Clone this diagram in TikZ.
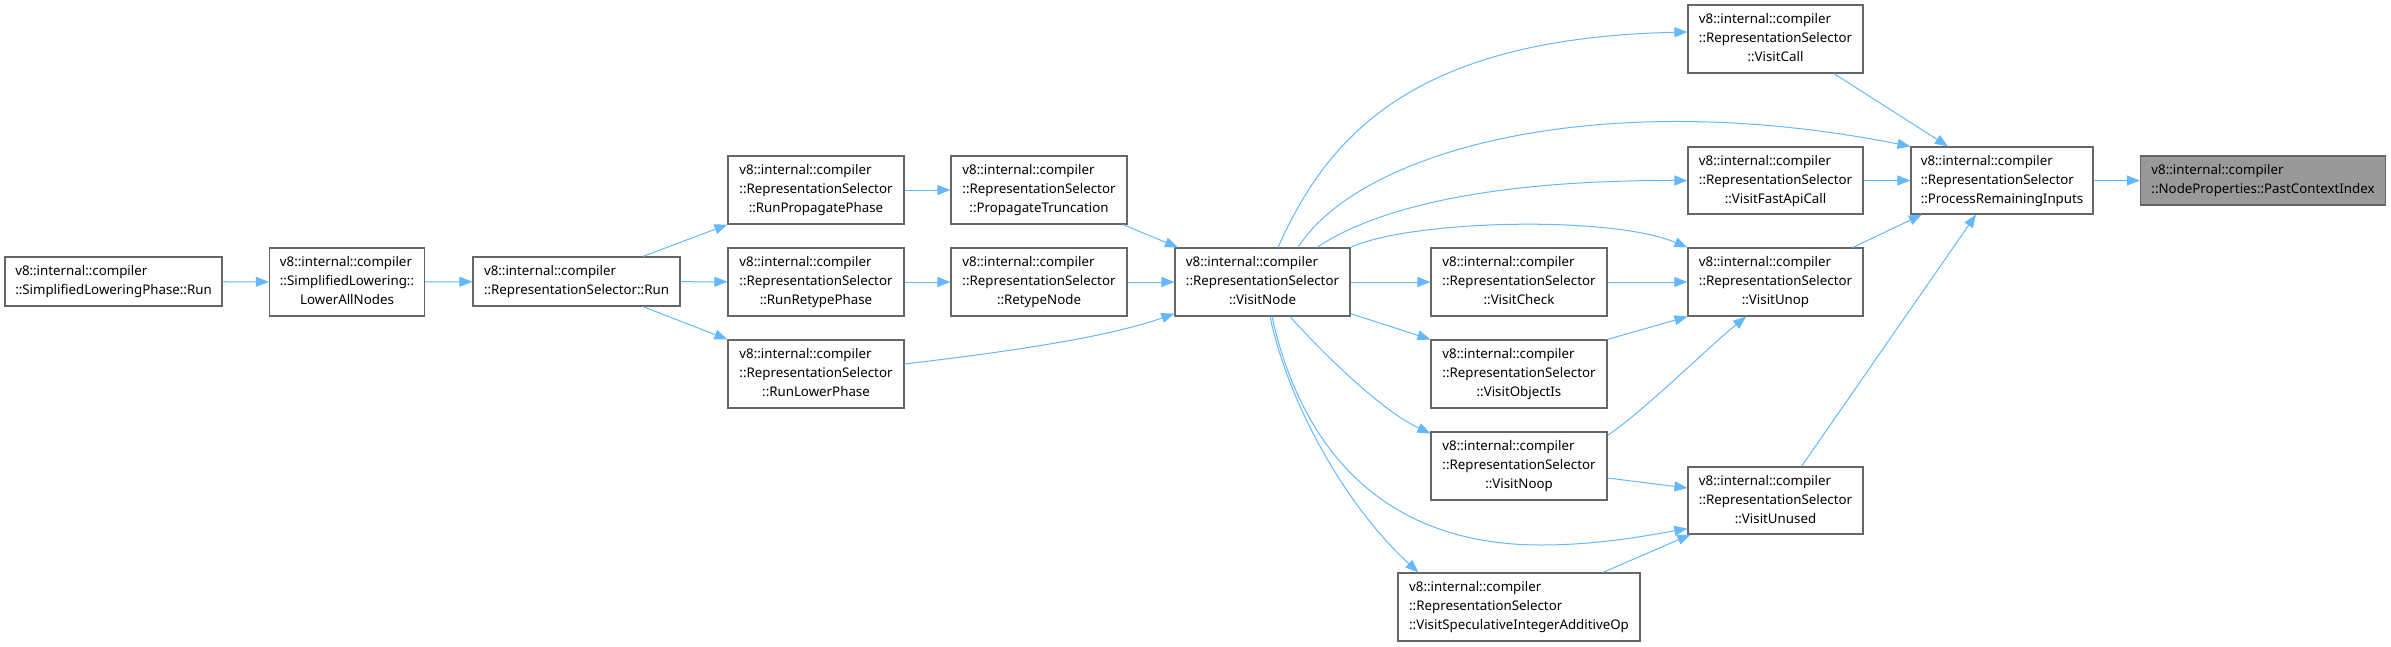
\documentclass[tikz,border=0pt]{standalone}
\usepackage{fontspec}
\setmainfont{Noto Sans}
\usetikzlibrary{arrows.meta}
\definecolor{edgeblue}{HTML}{63B8FF}
\definecolor{boxgray}{HTML}{666666}
\definecolor{fillgray}{HTML}{999999}
\newcommand{\fnlabel}[2]{\begin{tabular}{@{}l@{}}#1\\\multicolumn{1}{@{}c@{}}{#2}\end{tabular}}
\begin{document}
\begin{tikzpicture}[x=1pt, y=-1pt,
  box/.style={draw=boxgray, line width=1.2pt, fill=white, inner sep=0pt, minimum width=176, minimum height=68,
    font=\fontsize{13.3}{19}\selectfont},
  arr/.style={-{Triangle[length=13pt, width=10pt]}, draw=edgeblue, line width=1pt}
]
\useasboundingbox (0,0) rectangle (2391,646);

\node[box, minimum width=217, minimum height=49] (slprun) at (113.5,281.5) {\fnlabel{v8::internal::compiler}{::SimplifiedLoweringPhase::Run}};
\node[box, minimum width=155] (lowerall) at (347,282) {\fnlabel{v8::internal::compiler\\::SimplifiedLowering::}{LowerAllNodes}};
\node[box, minimum width=207, minimum height=49] (rsrun) at (576.5,281.5) {\fnlabel{v8::internal::compiler}{::RepresentationSelector::Run}};
\node[box] (rprop) at (816,190) {\fnlabel{v8::internal::compiler\\::RepresentationSelector}{::RunPropagatePhase}};
\node[box] (rretype) at (816,282) {\fnlabel{v8::internal::compiler\\::RepresentationSelector}{::RunRetypePhase}};
\node[box] (rlower) at (816,374) {\fnlabel{v8::internal::compiler\\::RepresentationSelector}{::RunLowerPhase}};
\node[box] (ptrunc) at (1039,190) {\fnlabel{v8::internal::compiler\\::RepresentationSelector}{::PropagateTruncation}};
\node[box] (retype) at (1039,282) {\fnlabel{v8::internal::compiler\\::RepresentationSelector}{::RetypeNode}};
\node[box, minimum width=175] (vnode) at (1262.5,282) {\fnlabel{v8::internal::compiler\\::RepresentationSelector}{::VisitNode}};
\node[box] (vcheck) at (1519,282) {\fnlabel{v8::internal::compiler\\::RepresentationSelector}{::VisitCheck}};
\node[box] (vobjis) at (1519,374) {\fnlabel{v8::internal::compiler\\::RepresentationSelector}{::VisitObjectIs}};
\node[box] (vnoop) at (1519,466) {\fnlabel{v8::internal::compiler\\::RepresentationSelector}{::VisitNoop}};
\node[box, minimum width=242] (vspec) at (1519,607) {\fnlabel{v8::internal::compiler\\::RepresentationSelector}{::VisitSpeculativeIntegerAdditiveOp}};
\node[box, minimum width=175] (vcall) at (1775.5,39) {\fnlabel{v8::internal::compiler\\::RepresentationSelector}{::VisitCall}};
\node[box, minimum width=175, minimum height=67] (vfast) at (1775.5,180.5) {\fnlabel{v8::internal::compiler\\::RepresentationSelector}{::VisitFastApiCall}};
\node[box, minimum width=175] (vunop) at (1775.5,282) {\fnlabel{v8::internal::compiler\\::RepresentationSelector}{::VisitUnop}};
\node[box, minimum width=175, minimum height=67] (vunused) at (1775.5,500.5) {\fnlabel{v8::internal::compiler\\::RepresentationSelector}{::VisitUnused}};
\node[box, minimum width=182, minimum height=67] (procrem) at (2002,180.5) {\fnlabel{v8::internal::compiler\\::RepresentationSelector}{::ProcessRemainingInputs}};
\node[box, fill=fillgray, minimum width=245, minimum height=49] (pastctx) at (2263,180.5) {\fnlabel{v8::internal::compiler}{::NodeProperties::PastContextIndex}};

\draw[arr] (slprun) -- (lowerall);
\draw[arr] (lowerall) -- (rsrun);
\draw[arr] ([xshift=66.5]rsrun.north) -- (rprop.south west);
\draw[arr] (rsrun) -- (rretype);
\draw[arr] ([xshift=66.5]rsrun.south) -- (rlower.north west);
\draw[arr] (rprop) -- (ptrunc);
\draw[arr] (rretype) -- (retype);
\draw[arr] ([xshift=84]ptrunc.south) -- ([xshift=3.5]vnode.north west);
\draw[arr] (retype) -- (vnode);
\draw[arr] ([yshift=10]rlower.east) .. controls (980,355) and (1100,340) .. ([yshift=3]vnode.south west);

\draw[arr] ([xshift=15.5]vnode.north) .. controls (1330,130) and (1420,38) .. (vcall.west |- 0,32);
\draw[arr] ([xshift=35.5]vnode.north) .. controls (1360,150) and (1600,85) .. (procrem.north west);
\draw[arr] ([xshift=54.5]vnode.north) .. controls (1380,205) and (1500,180) .. (vfast.west);
\draw[arr] (vnode.north east) .. controls (1410,220) and (1610,215) .. (vunop.north west);
\draw[arr] (vnode) -- (vcheck);
\draw[arr] ([yshift=3]vnode.south east) -- (vobjis.north west);
\draw[arr] ([xshift=27.5]vnode.south) .. controls (1320,350) and (1380,410) .. ([yshift=-2]vnoop.north west);
\draw[arr] ([xshift=9.5]vnode.south) .. controls (1295,420) and (1360,545) .. (1541,545) .. controls (1600,545) and (1650,535) .. ([yshift=6]vunused.south west);
\draw[arr] ([xshift=7.5]vnode.south) .. controls (1290,410) and (1350,510) .. ([xshift=21]vspec.north west);

\draw[arr] (vcheck) -- (vunop);
\draw[arr] (vobjis.north east) -- (vunop.south west);
\draw[arr] ([yshift=-4]vnoop.north east) .. controls (1645,410) and (1705,350) .. ([xshift=-29.5]vunop.south);
\draw[arr] ([yshift=-12]vnoop.east) -- ([yshift=12.5]vunused.west);
\draw[arr] ([xshift=84]vspec.north) -- ([xshift=3]vunused.south west);

\draw[arr] ([xshift=58.5]vcall.south) -- ([xshift=-54]procrem.north);
\draw[arr] (vfast) -- (procrem);
\draw[arr] ([xshift=77.5]vunop.north) -- ([xshift=11.5]procrem.south west);
\draw[arr] ([xshift=26]vunused.north) -- ([xshift=-26]procrem.south);
\draw[arr] (procrem) -- (pastctx);
\end{tikzpicture}
\end{document}
